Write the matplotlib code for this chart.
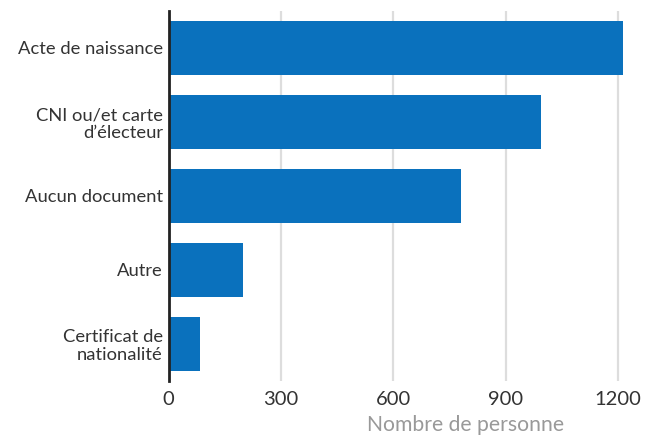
import matplotlib.pyplot as plt

plt.rcParams["font.family"] = ["Lato", "DejaVu Sans"]

categories = ["Acte de naissance", "CNI ou/et carte\nd'électeur", "Aucun document",
              "Autre", "Certificat de\nnationalité"]
values = [1213, 994, 781, 198, 84]
xticks = [0, 300, 600, 900, 1200]

fig = plt.figure(figsize=(6.54, 4.38), dpi=100)
ax = fig.add_axes([168.5 / 654, 1 - 381 / 438, 472 / 654, 370 / 438])

ypos = list(range(len(categories)))
ax.barh(ypos, values, height=0.72, color="#0a71bd", zorder=2)

ax.set_ylim(len(categories) - 0.5, -0.5)
ax.set_xlim(0, 1260)
ax.set_yticks(ypos)
ax.set_yticklabels([c.replace("'", "\u2019") for c in categories],
                   fontsize=13.2, color="#333333", linespacing=1.15)
ax.set_xticks(xticks)
ax.set_xticklabels([str(t) for t in xticks], fontsize=14.5, color="#333333")
ax.tick_params(axis="both", length=0)
ax.tick_params(axis="x", pad=7)
ax.tick_params(axis="y", pad=4)

ax.grid(axis="x", color="#dddddd", linewidth=1.6, zorder=0)
for side in ["top", "right", "bottom"]:
    ax.spines[side].set_visible(False)
ax.spines["left"].set_color("#222222")
ax.spines["left"].set_linewidth(2)
ax.spines["left"].set_zorder(3)

fig.text(466 / 654, 1 - 425 / 438, "Nombre de personne", ha="center", va="center",
         fontsize=15.2, color="#999999")

fig.savefig("out.png", dpi=100)
